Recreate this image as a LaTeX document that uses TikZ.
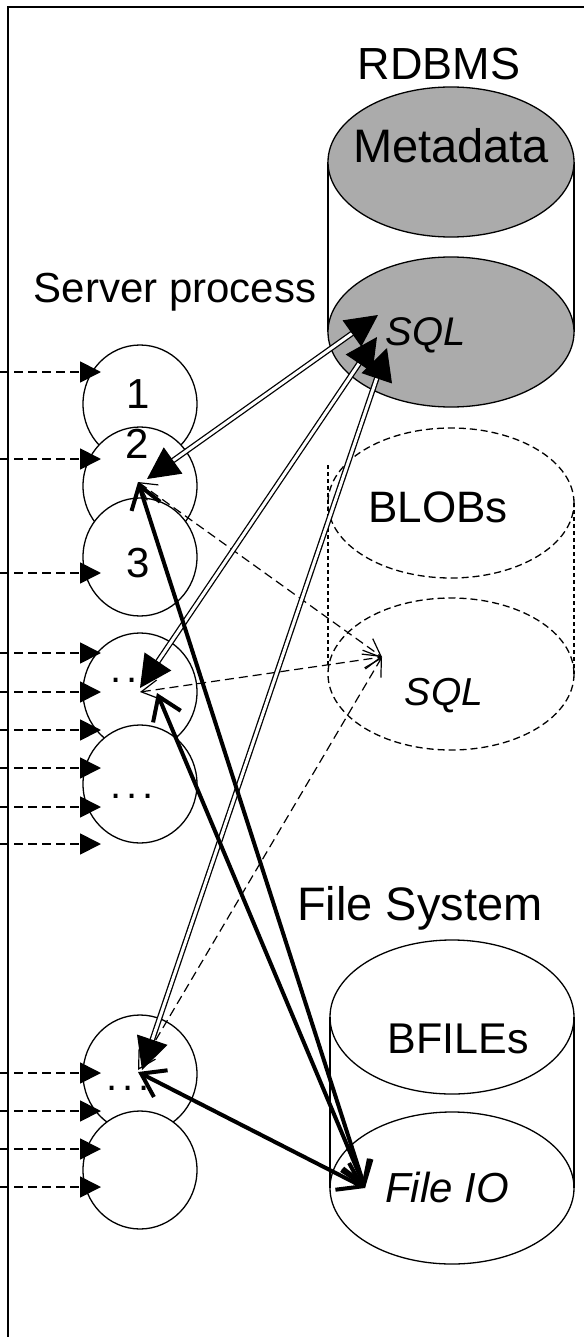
\documentclass[tikz,border=0pt]{standalone}
\usepackage{fontspec}
\setmainfont{Liberation Sans}
\usetikzlibrary{arrows.meta,shapes.geometric}
\tikzset{
  bigtri/.tip={Triangle[length=32pt,width=32pt]},
  smalltri/.tip={Triangle[length=21pt,width=21pt]},
  hbarb/.tip={Straight Barb[length=22pt,width=30pt]},
  tbarb/.tip={Straight Barb[length=17pt,width=19pt]},
}
\begin{document}
\begin{tikzpicture}[x=1pt,y=-1pt,
  every node/.style={inner sep=0pt,outer sep=0pt},
  proc/.style={draw,ellipse,fill=white,line width=1.3pt,minimum width=114pt,minimum height=118pt},
  dbase/.style={draw,ellipse,line width=1.3pt,minimum width=246pt,minimum height=150pt},
  shade/.style={fill=black!33},
  dashell/.style={dash pattern=on 7pt off 4pt},
  side/.style={line width=1.3pt},
  big/.style={font=\fontsize{44}{50}\selectfont,anchor=base},
  ital/.style={font=\fontsize{40}{46}\selectfont\itshape,anchor=base},
  digit/.style={font=\fontsize{42}{48}\selectfont,anchor=base},
  dots/.style={font=\fontsize{40}{46}\selectfont,anchor=base},
  inarrow/.style={line width=1.8pt,dash pattern=on 9pt off 5pt,-smalltri},
  dbl/.style={double,double distance=3pt,line width=1.3pt,bigtri-bigtri},
  heavy/.style={line width=4pt,hbarb-hbarb},
  thindash/.style={line width=1.2pt,dash pattern=on 9pt off 5pt,tbarb-tbarb},
]
\useasboundingbox (0,0) rectangle (584,1337);
% frame
\draw[line width=2pt] (8,1337) -- (8,7) -- (584,7);

% RDBMS cylinder
\draw[side] (328,162) -- (328,332);
\draw[side] (574,162) -- (574,332);
\node[dbase,shade] (meta) at (451,162) {};
\node[dbase,shade] (rsql) at (451,332) {};
\node[big,font=\fontsize{45}{50}\selectfont] (trdbms) at (439,80) {RDBMS};
\node[big,font=\fontsize{47}{52}\selectfont] (tmeta) at (451,163) {Metadata};
\node[ital] (tsql1) at (426,345) {SQL};

% BLOBs cylinder (dashed)
\draw[side,dash pattern=on 4pt off 3pt] (328,465) -- (328,668);
\draw[side,dash pattern=on 4pt off 3pt] (574,503) -- (574,674);
\node[dbase,dashell] (blob) at (451,503) {};
\node[dbase,dashell,minimum height=152pt] (bsqlell) at (451,674) {};
\node[big] (tblob) at (438,522) {BLOBs};
\node[ital,font=\fontsize{39}{45}\selectfont\itshape] (tsql2) at (444,705) {SQL};

% File system cylinder
\draw[side] (330,1017) -- (330,1188);
\draw[side] (574,1017) -- (574,1188);
\node[dbase,minimum width=244pt,minimum height=154pt] (bfile) at (452,1017) {};
\node[dbase,minimum width=244pt,minimum height=152pt] (fio) at (452,1188) {};
\node[big,font=\fontsize{47}{52}\selectfont] (tfs) at (420,920) {File System};
\node[big,font=\fontsize{43}{48}\selectfont] (tbfile) at (458,1053) {BFILEs};
\node[ital,font=\fontsize{42}{48}\selectfont\itshape] (tfio) at (447,1202) {File IO};

% Server process
\node[big,font=\fontsize{42}{48}\selectfont] (tserver) at (175,302) {Server process};
\node[proc] (c1) at (140,404) {};
\node[proc] (c2) at (140,486) {};
\node[proc] (c3) at (140,557) {};
\node[proc] (c4) at (140,692) {};
\node[proc] (c5) at (140,784) {};
\node[proc] (c6) at (140,1074) {};
\node[proc] (c7) at (140,1170) {};
\node[digit] (l1) at (138,408) {1};
\node[digit] (l2) at (137,458) {2};
\node[digit] (l3) at (138,577) {3};
\node[dots] (d4) at (132,682) {.\kern4.5pt.\kern4.5pt.};
\node[dots] (d5) at (132,798) {.\kern4.5pt.\kern4.5pt.};
\node[dots] (d6) at (128,1090) {.\kern4.5pt.\kern4.5pt.};

% incoming requests
\foreach \yy [count=\i] in {372,459,573,653,692,730,768,807,844,1073,1111,1149,1187}{
  \coordinate (src\i) at (0,\yy);
  \coordinate (dst\i) at (101,\yy);
  \draw[inarrow] (src\i) -- (dst\i);
}

% connector end points
\coordinate (sqlA) at (378,315);
\coordinate (sqlB) at (377,337);
\coordinate (sqlC) at (387,348);
\coordinate (c2a) at (147,479);
\coordinate (c4a) at (140,688);
\coordinate (c6a) at (142,1070);
\coordinate (c2b) at (138,482);
\coordinate (c4b) at (157,693);
\coordinate (c6b) at (138,1072);
\coordinate (fioA) at (365,1188);
\coordinate (bsql) at (382,657);
\coordinate (c2c) at (138,482);
\coordinate (c4c) at (140,692);
\coordinate (c6c) at (138,1070);

% dashed BLOB connectors
\draw[thindash] (c2c) -- (bsql);
\draw[thindash] (c4c) -- (bsql);
\draw[thindash] (bsql) -- (c6c);

% SQL connectors (double lines)
\draw[dbl] (sqlA) -- (c2a);
\draw[dbl] (sqlB) -- (c4a);
\draw[dbl] (sqlC) -- (c6a);

% File IO connectors (heavy)
\draw[heavy] (c2b) -- (fioA);
\draw[heavy] (c4b) -- (fioA);
\draw[heavy] (c6b) -- (fioA);
\end{tikzpicture}
\end{document}
